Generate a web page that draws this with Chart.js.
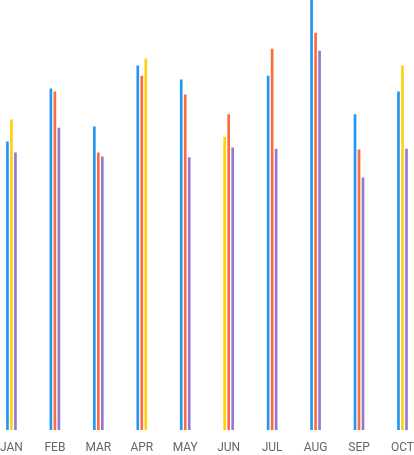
<!DOCTYPE html>
<html>
<head>
<meta charset="utf-8">
<script src="https://cdn.jsdelivr.net/npm/chart.js@4/dist/chart.umd.min.js"></script>
<style>
html,body{margin:0;padding:0;background:#fff;overflow:hidden;}
canvas{display:block;}
</style>
</head>
<body>
<canvas id="c" width="414" height="455" style="width:414px;height:455px"></canvas>
<script>
const categories = ['JAN','FEB','MAR','APR','MAY','JUN','JUL','AUG','SEP','OCT'];
const seriesA = [67.0, 79.3, 70.5, 84.7, 81.4, 68.1, 82.3, 101.5, 73.3, 78.6];
const seriesB = [72.1, 78.6, 64.4, 82.3, 77.9, 73.3, 88.6, 92.3, 65.1, 84.7];
const seriesC = [64.4, 70.2, 63.5, 86.3, 63.3, 65.6, 65.3, 88.1, 58.6, 65.3];
const BLUE = '#2196F3', YELLOW = '#FDD20E', ORANGE = '#FF6A3D', PURPLE = '#9479CF';
const colorsA = [BLUE, BLUE, BLUE, BLUE, BLUE, YELLOW, BLUE, BLUE, BLUE, BLUE];
const colorsB = [YELLOW, ORANGE, ORANGE, ORANGE, ORANGE, ORANGE, ORANGE, ORANGE, ORANGE, YELLOW];
const colorsC = [PURPLE, PURPLE, PURPLE, YELLOW, PURPLE, PURPLE, PURPLE, PURPLE, PURPLE, PURPLE];

new Chart(document.getElementById('c'), {
  type: 'bar',
  data: {
    labels: categories,
    datasets: [
      {data: seriesA, backgroundColor: colorsA, clip: false},
      {data: seriesB, backgroundColor: colorsB, clip: false},
      {data: seriesC, backgroundColor: colorsC, clip: false}
    ]
  },
  options: {
    responsive: false,
    animation: false,
    devicePixelRatio: 1,
    layout: {padding: 0},
    datasets: {bar: {barThickness: 4, maxBarThickness: 2}},
    plugins: {legend: {display: false}, tooltip: {enabled: false}},
    scales: {
      x: {
        offset: false,
        grid: {display: true, drawOnChartArea: false, drawTicks: true, tickLength: 11, color: 'rgba(0,0,0,0)'},
        border: {display: false},
        ticks: {color: '#666', font: {family: 'Roboto', size: 12}, padding: 0, maxRotation: 0}
      },
      y: {display: false, min: 0, max: 100}
    }
  }
});
</script>
</body>
</html>
